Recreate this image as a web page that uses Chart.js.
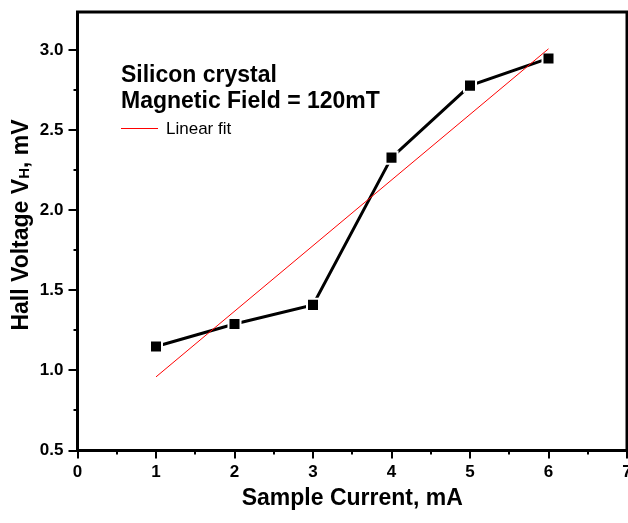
<!DOCTYPE html>
<html>
<head>
<meta charset="utf-8">
<script src="https://cdn.jsdelivr.net/npm/chart.js@4"></script>
<style>
  html, body { margin: 0; padding: 0; background: #fff; }
  #c { display: block; }
</style>
</head>
<body>
<canvas id="c" width="628" height="523"></canvas>
<script>
// values
const current = [1, 2, 3, 4, 5, 6];
const hallV = [1.15, 1.29, 1.41, 2.33, 2.78, 2.95];
const fitX = [1, 6];
const fitY = [0.96, 3.01];
const xTicks = [0, 1, 2, 3, 4, 5, 6, 7];
const yTicks = [0.5, 1.0, 1.5, 2.0, 2.5, 3.0];

const F = "'Liberation Sans', Arial, sans-serif";

const frame = {
  id: 'frame',
  afterDraw(chart) {
    const ctx = chart.ctx, a = chart.chartArea;
    const xs = chart.scales.x, ys = chart.scales.y;
    ctx.save();
    ctx.strokeStyle = '#000';
    // ticks, major + minor
    ctx.lineWidth = 2;
    ctx.beginPath();
    for (let v = 0; v <= 7.001; v += 0.5) {
      const px = Math.round(xs.getPixelForValue(v));
      const len = Math.abs(v - Math.round(v)) < 0.01 ? 8 : 4;
      ctx.moveTo(px, a.bottom); ctx.lineTo(px, a.bottom + len);
    }
    for (let v = 0.5; v <= 3.24; v += 0.25) {
      const py = Math.round(ys.getPixelForValue(v));
      const len = Math.abs(v * 2 - Math.round(v * 2)) < 0.01 ? 9 : 4;
      ctx.moveTo(a.left, py); ctx.lineTo(a.left - len, py);
    }
    ctx.stroke();
    // box
    ctx.lineWidth = 3;
    ctx.strokeRect(a.left, a.top, a.right - a.left, a.bottom - a.top);

    // labels inside the plot
    ctx.fillStyle = '#000';
    ctx.textBaseline = 'alphabetic';
    ctx.textAlign = 'left';
    ctx.font = `bold 23px ${F}`;
    ctx.fillText('Silicon crystal', 121, 82);
    ctx.fillText('Magnetic Field = 120mT', 121, 108);
    ctx.strokeStyle = '#ff0000';
    ctx.lineWidth = 1;
    ctx.beginPath(); ctx.moveTo(121, 128.5); ctx.lineTo(158, 128.5); ctx.stroke();
    ctx.font = `17px ${F}`;
    ctx.fillText('Linear fit', 166, 134);

    // axis titles
    ctx.font = `bold 23px ${F}`;
    ctx.textAlign = 'center';
    ctx.fillText('Sample Current, mA', (a.left + a.right) / 2, 505);

    ctx.translate(20, 225);
    ctx.rotate(-Math.PI / 2);
    const p1 = 'Hall Voltage V', p2 = 'H', p3 = ', mV';
    ctx.font = `bold 23px ${F}`;
    const w1 = ctx.measureText(p1).width, w3 = ctx.measureText(p3).width;
    ctx.font = `bold 15px ${F}`;
    const w2 = ctx.measureText(p2).width;
    let x = -(w1 + w2 + w3) / 2;
    ctx.textAlign = 'left';
    ctx.font = `bold 23px ${F}`;
    ctx.fillText(p1, x, 8); x += w1;
    ctx.font = `bold 15px ${F}`;
    ctx.fillText(p2, x, 9); x += w2;
    ctx.font = `bold 23px ${F}`;
    ctx.fillText(p3, x, 8);
    ctx.restore();
  }
};

new Chart(document.getElementById('c'), {
  type: 'line',
  data: {
    datasets: [
      {
        label: 'Linear fit',
        data: fitX.map((x, i) => ({ x, y: fitY[i] })),
        borderColor: '#ff0000', borderWidth: 1,
        pointRadius: 0, order: 0
      },
      {
        label: 'Hall voltage',
        data: current.map((x, i) => ({ x, y: hallV[i] })),
        borderColor: '#000', borderWidth: 3,
        pointStyle: 'rect', pointRadius: 8.5,
        pointBackgroundColor: '#000', pointBorderColor: '#fff', pointBorderWidth: 2,
        order: 1
      }
    ]
  },
  options: {
    responsive: false, animation: false,
    layout: { autoPadding: false, padding: { left: 0, top: 12, right: 1, bottom: 0 } },
    plugins: { legend: { display: false }, tooltip: { enabled: false } },
    scales: {
      x: {
        type: 'linear', min: 0, max: 7,
        afterBuildTicks: s => { s.ticks = xTicks.map(v => ({ value: v })); },
        afterFit: s => { s.height = 72.5; s.paddingLeft = 0; s.paddingRight = 0; },
        grid: { display: false, drawTicks: false },
        border: { display: false },
        ticks: { color: '#000', font: { family: F, size: 17, weight: 'bold' }, padding: 12, maxRotation: 0, autoSkip: false }
      },
      y: {
        type: 'linear', min: 0.5, max: 3.24,
        afterBuildTicks: s => { s.ticks = yTicks.map(v => ({ value: v })); },
        afterFit: s => { s.width = 77.5; s.paddingTop = 0; s.paddingBottom = 0; },
        grid: { display: false, drawTicks: false },
        border: { display: false },
        ticks: { color: '#000', font: { family: F, size: 17, weight: 'bold' }, padding: 14, callback: v => v.toFixed(1) }
      }
    }
  },
  plugins: [frame]
});
</script>
</body>
</html>
